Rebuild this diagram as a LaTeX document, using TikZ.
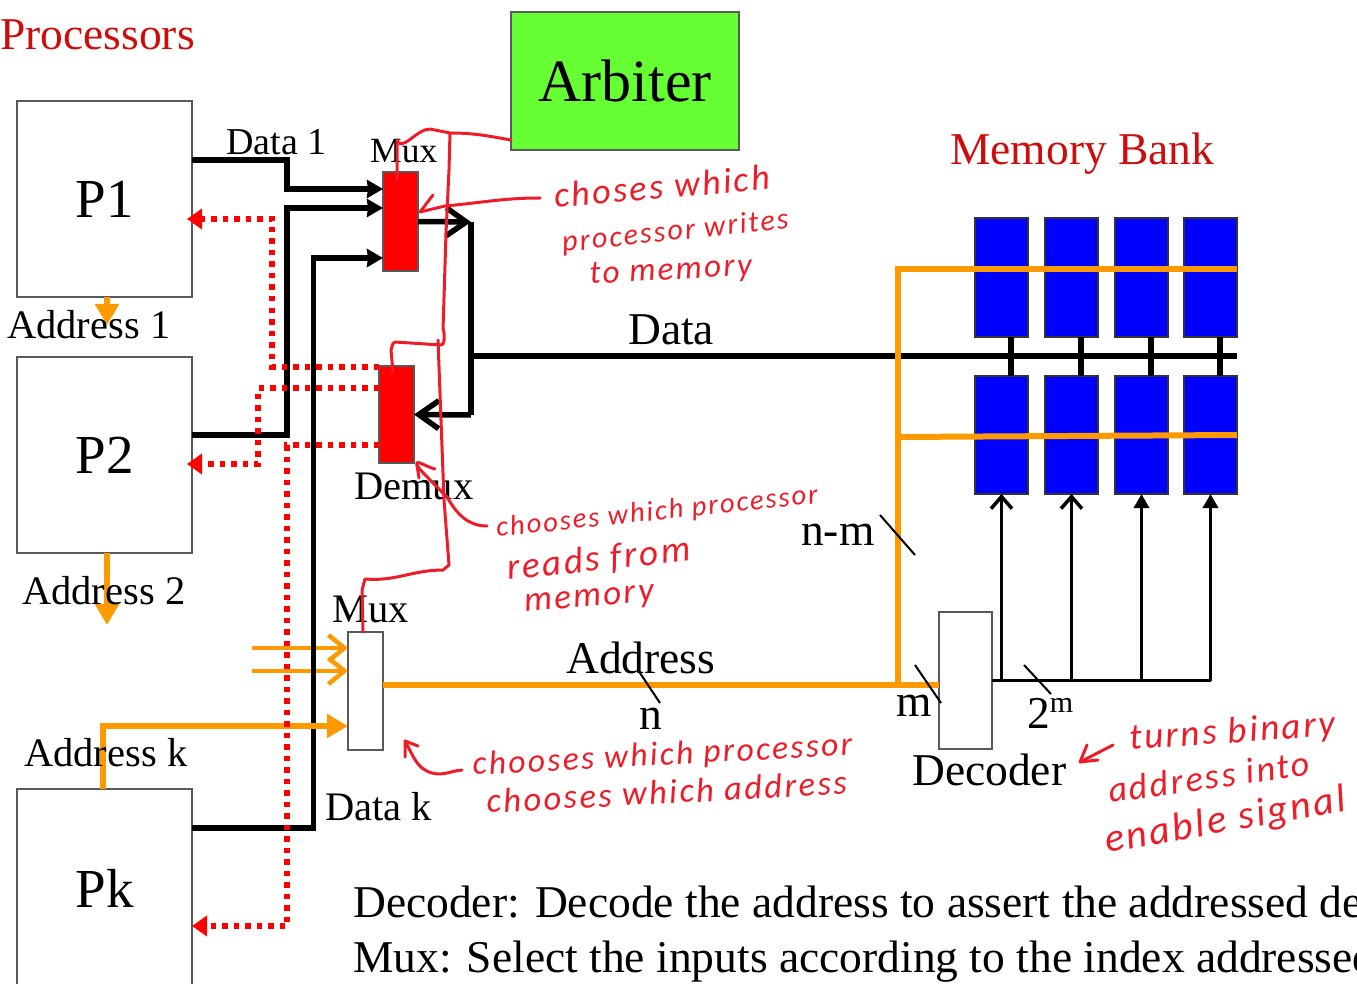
\documentclass[tikz,border=0pt]{standalone}
\usepackage{fontspec}
\setmainfont{Liberation Serif}
\newfontfamily\handfont[LetterSpace=7]{Carlito}
\usetikzlibrary{arrows.meta}
\definecolor{busorange}{rgb}{1,.6,0}
\definecolor{darkred}{rgb}{.8,.05,.05}
\definecolor{penred}{rgb}{.93,.11,.16}
\definecolor{armgreen}{rgb}{.4,1,.2}
\newcommand{\fs}[1]{\fontsize{#1}{#1}\selectfont}
\begin{document}
\begin{tikzpicture}
[x=1pt, y=-1pt, line join=miter, >=stealth,
box/.style={draw=black!65, line width=1.5pt, inner sep=0pt, outer sep=0pt},
lab/.style={inner sep=0pt, anchor=base west, font=\fs{40.5}},
hand/.style={inner sep=0pt, anchor=base west, text=penred, font=\handfont\itshape\fs{#1}},
wire/.style={line width=5.5pt},
bus/.style={line width=6.5pt},
ob/.style={line width=6pt, busorange},
rd/.style={line width=5.5pt, red, dash pattern=on 5.5pt off 6pt},
pen/.style={line width=3pt, penred, line cap=round, line join=round},
slash/.style={line width=2pt},
fhead/.style={-{Stealth[length=16pt,width=18pt,inset=1pt]}},
ohead/.style={-{Straight Barb[length=16pt,width=26pt]}},
ohor/.style={-{Stealth[length=21pt,width=23pt,inset=0pt]}},
rhead/.style={-{Stealth[length=15pt,width=20pt,inset=0pt]}}]
\clip[use as bounding box] (0,0) rectangle (1357,984);
\node[lab, text=darkred, font=\fs{45.5}] (tProc) at (0,50) {Processors};
\node[lab, text=darkred, font=\fs{45.5}] (tBank) at (950,165) {Memory Bank};
% processors
\node[box, minimum width=175pt, minimum height=196pt, font=\fs{55}] (p1) at (104.5,199) {\raisebox{-5pt}{P1}};
\node[box, minimum width=175pt, minimum height=196pt, font=\fs{55}] (p2) at (104.5,455) {\raisebox{-5pt}{P2}};
\node[box, minimum width=175pt, minimum height=211pt, font=\fs{55}] (pk) at (104.5,894.5) {\raisebox{13pt}{Pk}};
\node[box, fill=armgreen, minimum width=228pt, minimum height=138pt, font=\fs{60}] (arb) at (625,81) {\raisebox{-5pt}{Arbiter}};
\node[box, fill=red, minimum width=35pt, minimum height=99pt] (mux1) at (400.5,221.5) {};
\node[box, fill=red, minimum width=35pt, minimum height=97pt] (demux) at (396.5,414.5) {};
\node[box, fill=white, minimum width=35pt, minimum height=118pt] (muxk) at (365.5,691) {};
\node[box, fill=white, minimum width=53pt, minimum height=137pt] (dec) at (965.5,680.5) {};
% memory
\foreach \i/\x in {1/1001.5,2/1071.5,3/1141.5,4/1210.5}{
\node[box, draw=black!80, fill=blue, minimum width=53pt, minimum height=119pt] (top\i) at (\x,277.5) {};
\node[box, draw=black!80, fill=blue, minimum width=53pt, minimum height=118pt] (bot\i) at (\x,435) {};
\draw[line width=6.5pt] ([xshift=9.5pt]top\i.south)--([xshift=9.5pt]bot\i.north);
}
\coordinate (busT) at (471,222);
\coordinate (busB) at (471,415);
\coordinate (busJ) at (471,356);
\coordinate (busE) at (1237,356);
\coordinate (adrJ) at (898,685);
\coordinate (adrT) at (898,269);
\coordinate (adrM) at (898,437);
\coordinate (in1) at (252,648);
\coordinate (in2) at (252,671);
\coordinate (decO) at (1211,680.5);
% orange under the black
\draw[line width=4.5pt, busorange, ohead] (in1)--([yshift=43pt]muxk.west);
\draw[line width=4.5pt, busorange, ohead] (in2)--([yshift=20pt]muxk.west);
% black wires
\draw[wire, fhead] ([yshift=39pt]p1.east)-|(287,189)--([yshift=32.5pt]mux1.west);
\draw[wire, fhead] ([yshift=20pt]p2.east)-|(287,208)--([yshift=13.5pt]mux1.west);
\draw[wire, fhead] ([yshift=66.5pt]pk.east)-|(313.5,258)--([yshift=-36.5pt]mux1.west);
\draw[bus] (busT)--(busB);
\draw[bus] (busJ)--(busE);
\draw[wire, -{Straight Barb[length=20pt,width=28pt]}] (mux1.east)--(busT);
\draw[wire, -{Straight Barb[length=20pt,width=28pt]}] (busB)--(demux.east);
% orange
\draw[ob] (muxk.east|-adrJ)--(dec.west|-adrJ);
\draw[ob] (adrJ)--(adrT)--(top4.east|-adrT);
\draw[ob] (adrM)--(bot4.east);
\draw[ob, ohor] ([xshift=-1.5pt]pk.north)|-(muxk.west|-0,726);
\draw[ob, ohor] (107,297)--(107,325);
\draw[ob, ohor] (107,553)--(107,625);
% read paths
\draw[rd, rhead] ([yshift=47.5pt]demux.west)-|(272,219)--([xshift=-5pt,yshift=-20pt]p1.east);
\draw[rd, rhead] ([yshift=26.5pt]demux.west)-|(258,464)--([xshift=-5pt,yshift=-9pt]p2.east);
\draw[rd, rhead] ([yshift=-30.5pt]demux.west)-|(287,926)--([yshift=-31.5pt]pk.east);
% enables
\draw[line width=3.5pt] (dec.east|-decO)--(decO);
\foreach \i in {1,2}
\draw[line width=3.5pt, -{Straight Barb[length=12pt,width=21pt]}] (bot\i.south|-decO)--(bot\i.south);
\foreach \i in {3,4}
\draw[line width=3.5pt, -{Stealth[length=14pt,width=15pt,inset=0pt]}] (bot\i.south|-decO)--(bot\i.south);
% slashes
\draw[slash] (880,515)--(915,555);
\draw[slash] (915,665)--(941,703);
\draw[slash] (1024,665)--(1051,694);
\draw[slash] (638,670)--(660,703);
% labels
\node[lab, font=\fs{38}] (tD1) at (226,155) {Data 1};
\node[lab, font=\fs{35.5}] (tM1) at (370,163) {Mux};
\node[lab] (tA1) at (7,338) {Address 1};
\node[lab] (tDe) at (354,499) {Demux};
\node[lab] (tA2) at (22,604) {Address 2};
\node[lab] (tMk) at (332,622) {Mux};
\node[lab] (tAk) at (24,766) {Address k};
\node[lab] (tDk) at (325,820) {Data k};
\node[lab, font=\fs{45.5}] (tData) at (628,344) {Data};
\node[lab, font=\fs{45.5}] (tNm) at (801,545) {n-m};
\node[lab, font=\fs{45.5}] (tAdr) at (566,673) {Address};
\node[lab, font=\fs{45.5}] (tN) at (639,729) {n};
\node[lab, font=\fs{45.5}] (tM) at (896,716) {m};
\node[lab, font=\fs{45.5}] (t2m) at (1027,728) {2\raisebox{.33em}{\fs{30}m}};
\node[lab, font=\fs{45.5}] (tDec) at (912,785) {Decoder};
\node[lab, font=\fs{45.5}] (tL1) at (353,917) {Decoder: Decode the address to assert the addressed de};
\node[lab, font=\fs{45.5}] (tL2) at (353,972) {Mux: Select the inputs according to the index addressed};
% pen strokes
\coordinate (penT) at (450,133);
\coordinate (penM) at (441,345);
\draw[pen] (397,180)--(397,140) to[out=-70,in=180] (430,129)--(penT) to[out=0,in=170] (arb.west|-0,140);
\draw[pen] (penT)--(449,170)--(446,233)--(443,330) to[out=90,in=0] (penM)--(395,342) to[out=180,in=-90] (391,350)--(393,372);
\draw[pen] (438,340)--(444,500)--(449,565)--(443,570) to[out=180,in=-5] (365,579)--(362,590)--(363,632);
\draw[pen] (540,198) to[out=180,in=5] (445,206)--(420,212)--(433,195);
\draw[pen] (487,526) to[out=180,in=-60] (447,497)--(430,480) to[out=130,in=-60] (417,465) to[out=110,in=170] (435,469);
\draw[pen] (417,465)--(419,478);
\draw[pen] (462,770) to[out=185,in=-15] (432,773) to[out=165,in=-60] (405,741)--(405,757);
\draw[pen] (405,741)--(418,746);
\draw[pen] (1113,745)--(1080,762)--(1087,745);
\draw[pen] (1080,762)--(1098,760);
% pen text
\node[hand=36, rotate=5] (nA1) at (555,208) {choses which};
\node[hand=30, rotate=6] (nA2) at (563,252) {processor writes};
\node[hand=33, rotate=3] (nA3) at (590,284) {to memory};
\node[hand=28.5, rotate=6] (nB1) at (497,537) {chooses which processor};
\node[hand=37, rotate=6] (nB2) at (508,580) {reads from};
\node[hand=35, rotate=5] (nB3) at (525,612) {memory};
\node[hand=33.5, rotate=3] (nC1) at (473,775) {chooses which processor};
\node[hand=34.5, rotate=3] (nC2) at (487,813) {chooses which address};
\node[hand=37, rotate=4] (nD1) at (1130,750) {turns binary};
\node[hand=36, rotate=8] (nD2) at (1110,803) {address into};
\node[hand=40, rotate=10] (nD3) at (1107,853) {enable signal};
\end{tikzpicture}
\end{document}
